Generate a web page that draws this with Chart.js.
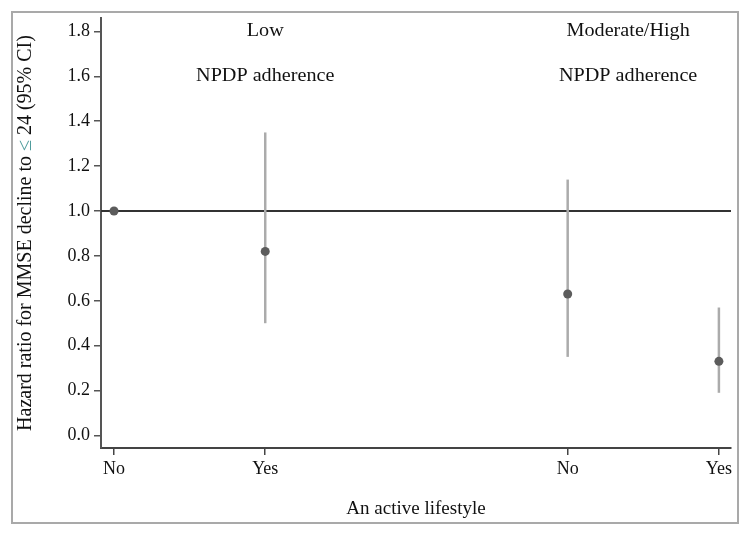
<!DOCTYPE html>
<html>
<head>
<meta charset="utf-8">
<script src="https://cdn.jsdelivr.net/npm/chart.js@4"></script>
<style>
  html, body { margin: 0; padding: 0; background: #fff; }
  #chart { display: block; }
</style>
</head>
<body>
<canvas id="chart" width="750" height="533"></canvas>
<script>
// data
const xPositions = [1, 2, 4, 5];
const tickLabels = ["No", "Yes", "No", "Yes"];
const hazardRatio = [1.0, 0.82, 0.63, 0.33];
const ciLower = [null, 0.50, 0.35, 0.19];
const ciUpper = [null, 1.35, 1.14, 0.57];
const yTicks = [0, 0.2, 0.4, 0.6, 0.8, 1.0, 1.2, 1.4, 1.6, 1.8];
const groupLabels = [["Low", "NPDP adherence"], ["Moderate/High", "NPDP adherence"]];
const groupCenters = [2, 4.4];
const groupLabelY = [1.8, 1.6];
const referenceValue = 1.0;

const xMin = 0.914, xMax = 5.08;
const yMin = -0.056, yMax = 1.86;
const FONT = '"Liberation Serif", "Times New Roman", serif';
const yTitleParts = [
  ["Hazard ratio for MMSE decline to ", "#111"],
  ["\u2264", "#4f9c9c"],
  [" 24 (95% CI)", "#111"]
];

const datasets = [];
datasets.push({
  type: "scatter",
  data: xPositions.map((x, i) => ({ x: x, y: hazardRatio[i] })),
  pointRadius: 4.5,
  pointBackgroundColor: "#5c5c5c",
  pointBorderWidth: 0,
  order: 0
});
xPositions.forEach((x, i) => {
  if (ciLower[i] == null) return;
  datasets.push({
    type: "line",
    data: [{ x: x, y: ciLower[i] }, { x: x, y: ciUpper[i] }],
    borderColor: "#ababab",
    borderWidth: 2.5,
    pointRadius: 0,
    order: 1
  });
});
datasets.push({
  type: "line",
  data: [{ x: xMin, y: referenceValue }, { x: xMax, y: referenceValue }],
  borderColor: "#333",
  borderWidth: 2,
  pointRadius: 0,
  order: 2
});

const framePlugin = {
  id: "frame",
  beforeDraw(chart) {
    const ctx = chart.ctx;
    ctx.save();
    ctx.strokeStyle = "#a9a9a9";
    ctx.lineWidth = 2;
    ctx.strokeRect(12, 12, 726, 511);
    ctx.restore();
  }
};

const textPlugin = {
  id: "texts",
  afterDraw(chart) {
    const ctx = chart.ctx;
    const area = chart.chartArea;
    const xs = chart.scales.x, ys = chart.scales.y;
    ctx.save();
    ctx.font = "18px " + FONT;
    ctx.fillStyle = "#111";
    ctx.textAlign = "center";
    ctx.textBaseline = "middle";
    groupLabels.forEach((lines, g) => {
      lines.forEach((txt, j) => {
        ctx.save();
        ctx.translate(xs.getPixelForValue(groupCenters[g]), ys.getPixelForValue(groupLabelY[j]));
        ctx.scale(1.12, 1); // the source text is a bit wide
        ctx.fillText(txt, 0, 0);
        ctx.restore();
      });
    });
    // rotated y title with the coloured sign
    ctx.font = "20px " + FONT;
    ctx.translate(26, (area.top + area.bottom) / 2);
    ctx.rotate(-Math.PI / 2);
    ctx.textAlign = "left";
    const total = yTitleParts.reduce((s, p) => s + ctx.measureText(p[0]).width, 0);
    let x = -total / 2;
    yTitleParts.forEach(p => {
      ctx.fillStyle = p[1];
      ctx.fillText(p[0], x, 0);
      x += ctx.measureText(p[0]).width;
    });
    ctx.restore();
  }
};

new Chart(document.getElementById("chart"), {
  type: "scatter",
  data: { datasets: datasets },
  options: {
    responsive: false,
    animation: false,
    devicePixelRatio: 1,
    layout: { padding: { left: 0, top: 18, right: 19, bottom: 0 } },
    plugins: { legend: { display: false }, tooltip: { enabled: false } },
    scales: {
      x: {
        type: "linear",
        min: xMin,
        max: xMax,
        afterBuildTicks: s => { s.ticks = xPositions.map(v => ({ value: v })); },
        afterFit: s => { s.height = 85; },
        ticks: {
          autoSkip: false,
          maxRotation: 0,
          padding: 3,
          color: "#111",
          font: { family: FONT, size: 18 },
          callback: (v, i) => tickLabels[i]
        },
        grid: { drawOnChartArea: false, drawTicks: true, tickLength: 7, color: "#444", lineWidth: 1.5 },
        border: { display: true, color: "#444", width: 2 },
        title: {
          display: true,
          text: "An active lifestyle",
          color: "#111",
          font: { family: FONT, size: 19 },
          padding: { top: 0, bottom: 13 }
        }
      },
      y: {
        type: "linear",
        min: yMin,
        max: yMax,
        afterBuildTicks: s => { s.ticks = yTicks.map(v => ({ value: v })); },
        afterFit: s => { s.width = 101; },
        ticks: {
          padding: 4,
          color: "#111",
          font: { family: FONT, size: 18 },
          callback: v => v.toFixed(1)
        },
        grid: { drawOnChartArea: false, drawTicks: true, tickLength: 7, color: "#555", lineWidth: 1.5 },
        border: { display: true, color: "#555", width: 2 }
      }
    }
  },
  plugins: [framePlugin, textPlugin]
});
</script>
</body>
</html>
